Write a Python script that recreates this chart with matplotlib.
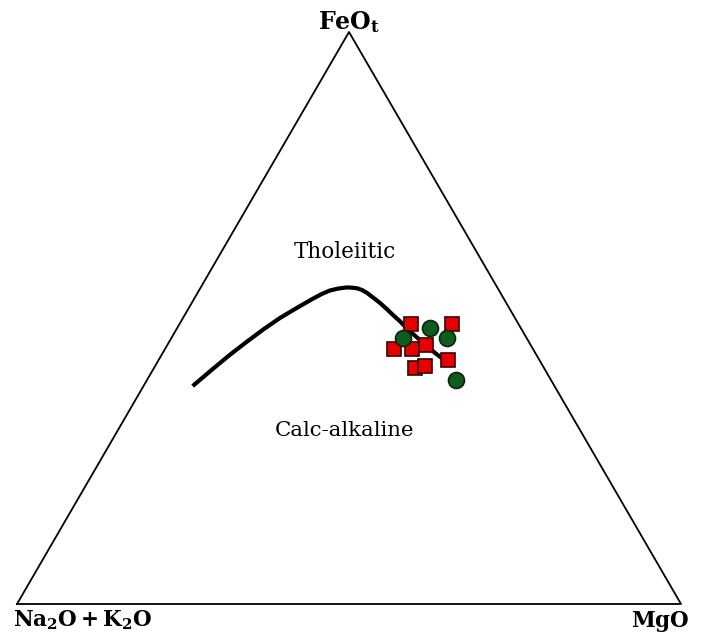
import numpy as np
import matplotlib
matplotlib.use('Agg')
import matplotlib.pyplot as plt

plt.rcParams['font.family'] = 'DejaVu Serif'
plt.rcParams['mathtext.fontset'] = 'dejavuserif'

# boundary line tholeiitic / calc-alkaline (wt% FeOt, Na2O+K2O, MgO)
line_F = [38.1, 41.2, 43.6, 45.9, 48.0, 50.0, 51.8, 53.4, 54.2, 54.8, 55.2, 55.4,
          55.3, 55.2, 54.9, 54.4, 53.6, 52.6, 51.5, 50.5, 49.4, 48.2, 46.9, 45.4,
          43.9, 42.3]
line_A = [54.5, 49.8, 46.1, 42.5, 38.9, 35.4, 31.9, 28.7, 27.0, 25.5, 24.1, 22.7,
          21.9, 21.2, 20.6, 20.1, 19.6, 19.0, 18.5, 18.1, 17.6, 17.2, 16.6, 15.9,
          15.1, 14.1]
line_M = [7.4, 9.0, 10.3, 11.7, 13.1, 14.6, 16.3, 17.9, 18.8, 19.7, 20.8, 22.0,
          22.8, 23.6, 24.5, 25.5, 26.8, 28.4, 30.0, 31.4, 33.0, 34.6, 36.5, 38.8,
          41.0, 43.6]

# samples, squares
sq_F = [49.0, 49.0, 44.5, 44.5, 45.2, 42.7, 41.2, 41.6]
sq_A = [16.1, 10.0, 21.0, 18.2, 15.8, 13.8, 19.5, 17.7]
sq_M = [34.9, 41.0, 34.5, 37.3, 39.0, 43.5, 39.3, 40.7]

# samples, circles
ci_F = [46.5, 48.3, 46.5, 39.2]
ci_A = [18.6, 13.6, 12.0, 14.3]
ci_M = [34.9, 38.1, 41.5, 46.5]

labels = ['$\\mathbf{FeO_t}$', '$\\mathbf{Na_2O+K_2O}$', '$\\mathbf{MgO}$']


def tern(F, A, M):
  F = np.array(F, dtype=float)
  A = np.array(A, dtype=float)
  M = np.array(M, dtype=float)
  s = F + A + M
  f = F / s
  m = M / s
  return m + f / 2, f * np.sqrt(3) / 2


W, H = 704, 639
fig = plt.figure(figsize=(W / 100, H / 100), dpi=100)
# triangle corners in pixels: (17,604) (681,604) (349,32)
ax = fig.add_axes([17 / W, (H - 604) / H, 664 / W, 572 / H])
ax.set_xlim(0, 1)
ax.set_ylim(0, np.sqrt(3) / 2)
ax.axis('off')

tx, ty = tern([0, 0, 100, 0], [100, 0, 0, 100], [0, 100, 0, 0])
ax.plot(tx, ty, color='black', lw=1.3, clip_on=False)

lx, ly = tern(line_F, line_A, line_M)
ax.plot(lx, ly, color='black', lw=3.0, solid_capstyle='butt',
        solid_joinstyle='round', zorder=2)

sx, sy = tern(sq_F, sq_A, sq_M)
ax.plot(sx, sy, 's', ms=10, mfc='#e60000', mec='#3a0000', mew=1.2, zorder=3)

cx, cy = tern(ci_F, ci_A, ci_M)
ax.plot(cx, cy, 'o', ms=11.5, mfc='#0f5c1c', mec='#0a2410', mew=1.2, zorder=4)

fig.text(349 / W, 1 - 29 / H, labels[0], ha='center', va='baseline', fontsize=17)
fig.text(13 / W, 1 - 626 / H, labels[1], ha='left', va='baseline', fontsize=15.5)
fig.text(631 / W, 1 - 627 / H, labels[2], ha='left', va='baseline', fontsize=15.5)

fig.text(345 / W, 1 - 252 / H, 'Tholeiitic', ha='center', va='center', fontsize=15.5)
fig.text(344 / W, 1 - 431 / H, 'Calc-alkaline', ha='center', va='center', fontsize=15.3)

fig.savefig('out.png', dpi=100)
